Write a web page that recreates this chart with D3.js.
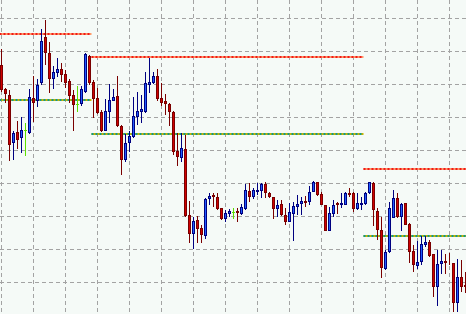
<!DOCTYPE html>
<html lang="en">
<head>
    <meta charset="UTF-8">
    <title>Candlestick chart</title>
    <script src="https://d3js.org/d3.v7.min.js"></script>
    <style>
        html, body { margin: 0; padding: 0; background: #f5faf7; }
        svg { display: block; }
    </style>
</head>
<body>
    <div id="chart"></div>

    <script>
        const width = 466;
        const height = 314;

        // OHLC values, one per bar
        const open = [1.3135,1.3111,1.3105,1.3057,1.3068,1.3062,1.3070,1.3067,1.3102,1.3099,1.3117,1.3163,1.3147,1.3121,1.3127,1.3131,1.3126,1.3119,1.3105,1.3096,
            1.3096,1.3108,1.3144,1.3118,1.3102,1.3088,1.3069,1.3088,1.3099,1.3104,1.3074,1.3040,1.3057,1.3063,1.3083,1.3088,1.3088,1.3115,1.3117,1.3124,
            1.3102,1.3099,1.3096,1.3088,1.3049,1.3042,1.3051,1.2985,1.2966,1.2980,1.2972,1.2964,1.3001,1.3005,1.3003,1.2992,1.2981,1.2986,1.2988,1.2989,
            1.2986,1.2991,1.3009,1.3003,1.3008,1.3009,1.3016,1.3007,1.3003,1.2991,1.2996,1.2985,1.2978,1.2986,1.2993,1.2996,1.2999,1.2998,1.3008,1.3018,
            1.3006,1.2995,1.2969,1.2986,1.2997,1.2995,1.2995,1.3007,1.3007,1.2991,1.2995,1.2996,1.3007,1.3017,1.2989,1.2970,1.2931,1.2948,1.2982,1.3002,
            1.2983,1.2997,1.2976,1.2949,1.2934,1.2938,1.2955,1.2958,1.2946,1.2913,1.2936,1.2939,1.2937,1.2937,1.2897,1.2923,1.2915];
        const high = [1.3151,1.3112,1.3110,1.3069,1.3079,1.3083,1.3077,1.3111,1.3124,1.3121,1.3171,1.3180,1.3158,1.3134,1.3142,1.3137,1.3130,1.3121,1.3110,1.3114,
            1.3114,1.3147,1.3145,1.3120,1.3112,1.3090,1.3101,1.3116,1.3111,1.3124,1.3075,1.3066,1.3069,1.3103,1.3108,1.3105,1.3128,1.3142,1.3128,1.3131,
            1.3117,1.3106,1.3097,1.3089,1.3067,1.3067,1.3065,1.2999,1.2983,1.2984,1.2975,1.3002,1.3007,1.3007,1.3007,1.2992,1.2990,1.2991,1.2992,1.2992,
            1.2996,1.3016,1.3017,1.3012,1.3017,1.3017,1.3018,1.3008,1.3003,1.3000,1.3000,1.2992,1.2997,1.2998,1.3005,1.3003,1.3004,1.3014,1.3019,1.3018,
            1.3008,1.2995,1.2993,1.3000,1.2998,1.3007,1.3008,1.3012,1.3008,1.3007,1.3003,1.3008,1.3018,1.3018,1.2992,1.2983,1.2950,1.2998,1.3010,1.3007,
            1.2997,1.2997,1.2977,1.2955,1.2959,1.2964,1.2964,1.2960,1.2946,1.2950,1.2950,1.2946,1.2947,1.2937,1.2941,1.2940,1.2928];
        const low = [1.3108,1.3097,1.3039,1.3040,1.3051,1.3047,1.3044,1.3066,1.3078,1.3093,1.3115,1.3135,1.3107,1.3111,1.3123,1.3118,1.3112,1.3097,1.3069,1.3088,
            1.3094,1.3107,1.3115,1.3082,1.3086,1.3068,1.3069,1.3077,1.3099,1.3073,1.3025,1.3038,1.3048,1.3062,1.3075,1.3077,1.3087,1.3107,1.3116,1.3099,
            1.3094,1.3085,1.3074,1.3045,1.3034,1.3038,1.2983,1.2957,1.2951,1.2957,1.2957,1.2961,1.2995,1.2993,1.2990,1.2980,1.2978,1.2983,1.2981,1.2978,
            1.2985,1.2990,1.2998,1.3001,1.3005,1.3002,1.3002,1.3002,1.2981,1.2983,1.2984,1.2975,1.2978,1.2959,1.2985,1.2985,1.2993,1.2995,1.3008,1.3004,
            1.2995,1.2969,1.2969,1.2983,1.2986,1.2992,1.2995,1.3003,1.2988,1.2990,1.2990,1.2995,1.3006,1.2974,1.2960,1.2922,1.2930,1.2947,1.2982,1.2982,
            1.2969,1.2975,1.2937,1.2928,1.2931,1.2935,1.2953,1.2943,1.2903,1.2894,1.2926,1.2926,1.2935,1.2888,1.2888,1.2908,1.2907];
        const close = [1.3110,1.3106,1.3055,1.3067,1.3060,1.3070,1.3070,1.3103,1.3097,1.3115,1.3159,1.3147,1.3121,1.3128,1.3131,1.3125,1.3117,1.3104,1.3095,1.3096,
            1.3111,1.3146,1.3117,1.3101,1.3087,1.3069,1.3089,1.3100,1.3103,1.3074,1.3040,1.3057,1.3064,1.3084,1.3089,1.3091,1.3117,1.3118,1.3124,1.3101,
            1.3097,1.3096,1.3088,1.3048,1.3043,1.3052,1.2984,1.2966,1.2979,1.2971,1.2965,1.3001,1.3004,1.3003,1.2991,1.2981,1.2987,1.2989,1.2988,1.2987,
            1.2993,1.3010,1.3003,1.3010,1.3010,1.3016,1.3007,1.3003,1.2991,1.2995,1.2985,1.2978,1.2988,1.2994,1.2996,1.2999,1.2997,1.3008,1.3018,1.3005,
            1.2995,1.2969,1.2987,1.2995,1.2995,1.2997,1.3007,1.3005,1.2991,1.2997,1.2997,1.3007,1.3018,1.2990,1.2970,1.2932,1.2948,1.2992,1.3002,1.2983,
            1.2996,1.2975,1.2948,1.2935,1.2938,1.2956,1.2958,1.2944,1.2913,1.2936,1.2939,1.2937,1.2936,1.2897,1.2923,1.2913,1.2913];

        // support / resistance segments: [first bar, last bar, price]
        const resistance = [[0, 22, 1.3166], [23, 90, 1.3143], [91, 116, 1.3031]];
        const support = [[0, 22, 1.3100], [23, 90, 1.3066], [91, 116, 1.2964]];

        const bars = open.map((o, i) => ({i: i, o: o, h: high[i], l: low[i], c: close[i]}));

        const x = d3.scaleLinear().domain([0, 1]).range([1.5, 5.5]);
        const y = d3.scaleLinear().domain([1.3200, 1.2886]).range([0, height]);

        const svg = d3.select("#chart")
            .append("svg")
            .attr("width", width)
            .attr("height", height);

        svg.append("rect")
            .attr("width", width)
            .attr("height", height)
            .attr("fill", "#f5faf7");

        // grid: every 8 bars and every 33 points
        const grid = svg.append("g")
            .attr("stroke", "#a3a3a3")
            .attr("stroke-width", 1)
            .attr("stroke-dasharray", "4,3");

        grid.selectAll(".vgrid")
            .data(d3.range(0, bars.length, 8))
            .enter().append("line")
            .attr("class", "vgrid")
            .attr("x1", d => x(d)).attr("x2", d => x(d))
            .attr("y1", 0).attr("y2", height);

        grid.selectAll(".hgrid")
            .data(d3.range(0, 10).map(k => 1.31815 - 0.0033 * k))
            .enter().append("line")
            .attr("class", "hgrid")
            .attr("x1", 0).attr("x2", width)
            .attr("y1", d => y(d)).attr("y2", d => y(d));

        function drawLevels(levels, base, dot) {
            const g = svg.append("g").attr("stroke-width", 2);
            g.selectAll(".base")
                .data(levels)
                .enter().append("line")
                .attr("x1", d => x(d[0]) - 2).attr("x2", d => x(d[1]) + 2)
                .attr("y1", d => y(d[2])).attr("y2", d => y(d[2]))
                .attr("stroke", base);
            g.selectAll(".dot")
                .data(levels)
                .enter().append("line")
                .attr("x1", d => x(d[0]) - 2).attr("x2", d => x(d[1]) + 2)
                .attr("y1", d => y(d[2])).attr("y2", d => y(d[2]))
                .attr("stroke", dot)
                .attr("stroke-dasharray", "2,2");
        }

        drawLevels(resistance, "#ff9a6a", "#f01818");
        drawLevels(support, "#c8b400", "#0e9a8a");

        const candle = svg.append("g").selectAll("g")
            .data(bars)
            .enter().append("g");

        const wickColor = d => d.c === d.o ? "#5ce000" : (d.c > d.o ? "#000080" : "#7a0000");

        candle.append("line")
            .attr("x1", d => x(d.i)).attr("x2", d => x(d.i))
            .attr("y1", d => y(d.h)).attr("y2", d => y(d.l))
            .attr("stroke", wickColor)
            .attr("stroke-width", 1);

        candle.filter(d => d.c !== d.o).append("rect")
            .attr("x", d => x(d.i) - 1)
            .attr("width", 2)
            .attr("y", d => Math.round(y(Math.max(d.o, d.c))) + 0.5)
            .attr("height", d => Math.max(Math.round(Math.abs(y(d.o) - y(d.c))) - 1, 0))
            .attr("fill", d => d.c > d.o ? "#1f5cff" : "#d00000")
            .attr("stroke", wickColor)
            .attr("stroke-width", 1);

        // doji: horizontal tick
        candle.filter(d => d.c === d.o).append("line")
            .attr("x1", d => x(d.i) - 1.5).attr("x2", d => x(d.i) + 1.5)
            .attr("y1", d => Math.round(y(d.o)) + 0.5).attr("y2", d => Math.round(y(d.o)) + 0.5)
            .attr("stroke", "#5ce000")
            .attr("stroke-width", 1);
    </script>
</body>
</html>
